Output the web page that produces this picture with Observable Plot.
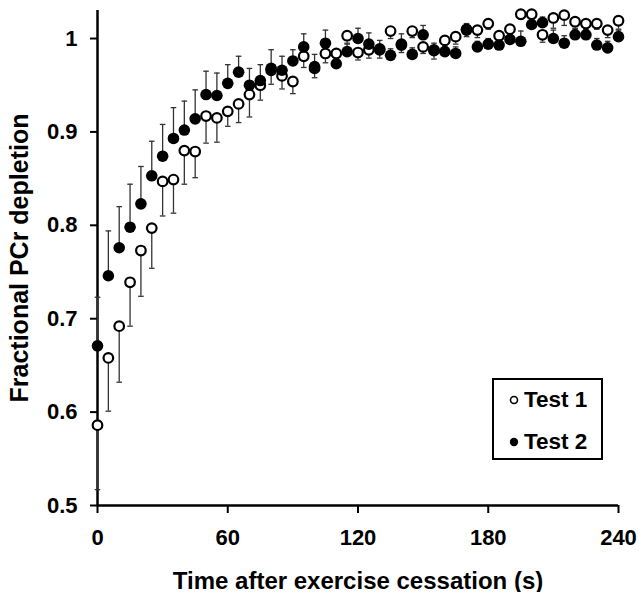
<!DOCTYPE html>
<html><head><meta charset="utf-8">
<script src="https://cdn.jsdelivr.net/npm/d3@7"></script>
<script src="https://cdn.jsdelivr.net/npm/@observablehq/plot@0.6"></script>
<style>
body{margin:0;background:#fff;}
#wrap{position:relative;width:639px;height:592px;}
#legend{position:absolute;left:492px;top:378px;width:107px;height:78px;border:2px solid #000;background:#fff;font-family:"Liberation Sans",Arial,sans-serif;font-weight:bold;font-size:22.5px;color:#000;}
.row{position:absolute;left:15px;height:24px;display:flex;align-items:center;white-space:nowrap;}
.row svg{margin-right:5px;}
</style>
</head><body>
<div id="wrap"><div id="chart"></div>
<div id="legend">
<div class="row" style="top:8px"><svg width="10" height="10"><circle cx="5" cy="5" r="3.5" fill="#fff" stroke="#000" stroke-width="1.6"/></svg>Test 1</div>
<div class="row" style="top:50px"><svg width="10" height="10"><circle cx="5" cy="5" r="4.2" fill="#000"/></svg>Test 2</div>
</div></div>
<script>
const time = [0,5,10,15,20,25,30,35,40,45,50,55,60,65,70,75,80,85,90,95,100,105,110,115,120,125,130,135,140,145,150,155,160,165,170,175,180,185,190,195,200,205,210,215,220,225,230,235,240];
const test1 = [0.586,0.658,0.692,0.739,0.773,0.797,0.847,0.849,0.880,0.879,0.917,0.915,0.922,0.930,0.940,0.950,0.966,0.960,0.954,0.981,0.968,0.984,0.984,1.003,0.985,0.988,0.988,1.008,0.993,1.008,0.991,0.987,0.998,1.002,1.009,1.009,1.016,1.003,1.010,1.026,1.026,1.004,1.022,1.025,1.018,1.016,1.016,1.009,1.019];
const test1Err = [0.069,0.057,0.060,0.047,0.049,0.043,0.037,0.036,0.036,0.028,0.029,0.026,0.016,0.020,0.024,0.016,0.015,0.014,0.013,0.012,0.010,0.010,0.008,0.008,0.008,0.009,0.009,0.008,0.008,0.007,0.007,0.009,0.007,0.008,0.007,0.008,0.006,0.006,0.006,0.005,0.005,0.008,0.011,0.011,0.007,0.007,0.006,0.008,0.009];
const test2 = [0.671,0.746,0.776,0.798,0.823,0.853,0.874,0.893,0.902,0.914,0.940,0.939,0.952,0.964,0.950,0.955,0.968,0.966,0.976,0.991,0.970,0.995,0.973,0.986,1.000,0.994,0.989,0.982,0.994,0.983,1.004,0.988,0.986,0.984,1.010,0.991,0.994,0.993,0.999,0.997,1.015,1.017,1.000,0.995,1.004,1.004,0.993,0.990,1.002];
const test2Err = [0.052,0.048,0.044,0.046,0.040,0.037,0.034,0.033,0.031,0.031,0.025,0.024,0.020,0.017,0.018,0.017,0.020,0.015,0.012,0.014,0.013,0.014,0.008,0.008,0.011,0.012,0.009,0.007,0.011,0.007,0.010,0.007,0.007,0.007,0.006,0.006,0.006,0.006,0.006,0.011,0.006,0.006,0.009,0.008,0.006,0.006,0.007,0.007,0.007];
const xTicks = [0,60,120,180,240];
const yTicks = [0.5,0.6,0.7,0.8,0.9,1];
const xLabel = "Time after exercise cessation (s)";
const yLabel = "Fractional PCr depletion";

const d1 = time.map((t,i)=>({t, v:test1[i], lo:test1[i]-test1Err[i], hi:test1[i]}));
const d2 = time.map((t,i)=>({t, v:test2[i], lo:test2[i], hi:test2[i]+test2Err[i]}));
const cap = {draw(ctx, size){ const w = Math.sqrt(size/Math.PI); ctx.moveTo(-w,0); ctx.lineTo(w,0); }};

const chart = Plot.plot({
  width:639, height:592, marginLeft:97, marginRight:21, marginTop:10, marginBottom:87,
  x:{domain:[0,240]}, y:{domain:[0.5,1.03]},
  style:{fontFamily:"'Liberation Sans', Arial, sans-serif", fontWeight:"bold", fontSize:"22px", color:"#000", background:"#fff"},
  marks:[
    Plot.axisY({ticks:yTicks, tickFormat:d=>String(+d.toFixed(1)), tickSize:7, tickPadding:13, strokeWidth:2, label:null, fontSize:22}),
    Plot.axisY({ticks:[], label:yLabel, labelAnchor:"center", labelArrow:"none", labelOffset:87, fontSize:25}),
    Plot.axisX({ticks:xTicks, tickSize:8, tickPadding:16, strokeWidth:2, label:null, fontSize:22}),
    Plot.axisX({ticks:[], label:xLabel, labelAnchor:"center", labelArrow:"none", labelOffset:83, fontSize:24}),
    Plot.ruleX([0], {strokeWidth:2.5}),
    Plot.ruleY([0.5], {strokeWidth:2.5}),
    Plot.ruleX(d1, {x:"t", y1:"lo", y2:"hi", stroke:"#333", strokeWidth:1.3}),
    Plot.dot(d1, {x:"t", y:"lo", symbol:cap, r:2.8, stroke:"#333", strokeWidth:1.3}),
    Plot.ruleX(d2, {x:"t", y1:"lo", y2:"hi", stroke:"#333", strokeWidth:1.3}),
    Plot.dot(d2, {x:"t", y:"hi", symbol:cap, r:2.8, stroke:"#333", strokeWidth:1.3}),
    Plot.dot(d1, {x:"t", y:"v", r:4.8, fill:"white", stroke:"black", strokeWidth:2.2}),
    Plot.dot(d2, {x:"t", y:"v", r:5.8, fill:"black", stroke:"none"})
  ]
});
document.getElementById("chart").appendChild(chart);
</script>
</body></html>
